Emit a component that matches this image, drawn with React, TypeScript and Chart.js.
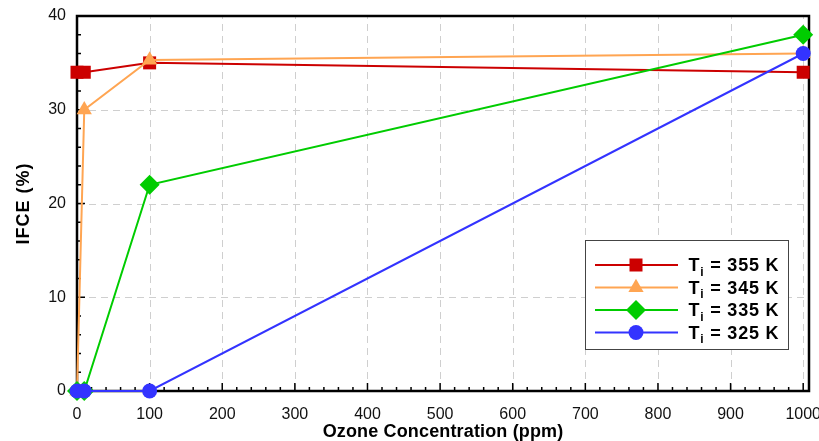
import React, { useEffect, useRef } from 'react';
import { Chart, registerables } from 'chart.js';

Chart.register(...registerables);

// ---- data ----
const xValues = [0, 10, 100, 1000];
const ifce355 = [34, 34, 35, 34];
const ifce345 = [0, 30, 35.3, 36];
const ifce335 = [0, 0, 22, 38];
const ifce325 = [0, 0, 0, 36];
const tempLabels = ['355', '345', '335', '325'];
const xTicks = [0, 100, 200, 300, 400, 500, 600, 700, 800, 900, 1000];
const yTicks = [0, 10, 20, 30, 40];
const xTitle = 'Ozone Concentration (ppm)';
const yTitle = 'IFCE (%)';

const FONT = '"Liberation Sans", Arial, Helvetica, sans-serif';

const series = [
  { temp: tempLabels[0], values: ifce355, color: '#CC0000', style: 'rect', radius: 9.2 },
  { temp: tempLabels[1], values: ifce345, color: '#FFA552', style: 'triangle', radius: 8.8 },
  { temp: tempLabels[2], values: ifce335, color: '#00CC00', style: 'rectRot', radius: 10 },
  { temp: tempLabels[3], values: ifce325, color: '#3333FF', style: 'circle', radius: 7.5 },
];

function drawMarker(ctx: CanvasRenderingContext2D, style: string, x: number, y: number, r: number, color: string) {
  ctx.fillStyle = color;
  ctx.beginPath();
  if (style === 'rect') {
    const h = r * Math.SQRT1_2;
    ctx.rect(x - h, y - h, 2 * h, 2 * h);
  } else if (style === 'triangle') {
    let a = 0;
    ctx.moveTo(x + Math.sin(a) * r, y - Math.cos(a) * r);
    a += (2 * Math.PI) / 3;
    ctx.lineTo(x + Math.sin(a) * r, y - Math.cos(a) * r);
    a += (2 * Math.PI) / 3;
    ctx.lineTo(x + Math.sin(a) * r, y - Math.cos(a) * r);
    ctx.closePath();
  } else if (style === 'rectRot') {
    ctx.moveTo(x - r, y);
    ctx.lineTo(x, y - r);
    ctx.lineTo(x + r, y);
    ctx.lineTo(x, y + r);
    ctx.closePath();
  } else {
    ctx.arc(x, y, r, 0, Math.PI * 2);
  }
  ctx.fill();
}

const framePlugin = {
  id: 'frameAndGrid',
  beforeDatasetsDraw(chart: any) {
    const { ctx, chartArea: a, scales } = chart;
    const x = scales.x;
    const y = scales.y;
    ctx.save();
    // dashed grid
    ctx.strokeStyle = '#cfcfcf';
    ctx.lineWidth = 1;
    ctx.setLineDash([7, 5]);
    for (const v of xTicks) {
      if (v === 0) continue;
      const px = Math.round(x.getPixelForValue(v)) + 0.5;
      ctx.beginPath();
      ctx.moveTo(px, a.bottom);
      ctx.lineTo(px, a.top);
      ctx.stroke();
    }
    for (const v of yTicks) {
      if (v === 0 || v === 40) continue;
      const py = Math.round(y.getPixelForValue(v)) + 0.5;
      ctx.beginPath();
      ctx.moveTo(a.left, py);
      ctx.lineTo(a.right, py);
      ctx.stroke();
    }
    ctx.setLineDash([]);
    // inward tick marks
    ctx.strokeStyle = '#000';
    ctx.lineWidth = 1.5;
    for (let v = 0; v <= 1000; v += 20) {
      const len = v % 100 === 0 ? 8 : 4;
      const px = x.getPixelForValue(v);
      ctx.beginPath();
      ctx.moveTo(px, a.bottom);
      ctx.lineTo(px, a.bottom - len);
      ctx.stroke();
    }
    for (let v = 0; v <= 40; v += 2) {
      const len = v % 10 === 0 ? 8 : 4;
      const py = y.getPixelForValue(v);
      ctx.beginPath();
      ctx.moveTo(a.left, py);
      ctx.lineTo(a.left + len, py);
      ctx.stroke();
    }
    // frame
    ctx.lineWidth = 2.5;
    ctx.strokeRect(a.left, a.top, a.right - a.left, a.bottom - a.top);
    ctx.restore();
  },
  afterDatasetsDraw(chart: any) {
    const { ctx, chartArea: a } = chart;
    ctx.save();
    // axis titles
    ctx.fillStyle = '#000';
    ctx.font = `bold 18px ${FONT}`;
    ctx.textAlign = 'center';
    ctx.textBaseline = 'alphabetic';
    (ctx as any).letterSpacing = '0.15px';
    ctx.fillText(xTitle, (a.left + a.right) / 2, 436.5);
    ctx.save();
    ctx.translate(28.5, (a.top + a.bottom) / 2);
    ctx.rotate(-Math.PI / 2);
    (ctx as any).letterSpacing = '1px';
    ctx.fillText(yTitle, 0, 0);
    ctx.restore();

    // legend
    const bx = 585, by = 240, bw = 203, bh = 109;
    ctx.fillStyle = '#fff';
    ctx.fillRect(bx, by, bw, bh);
    ctx.strokeStyle = '#444';
    ctx.lineWidth = 1;
    ctx.strokeRect(bx + 0.5, by + 0.5, bw, bh);
    const rows = [265, 287.5, 310, 332.5];
    series.forEach((s, i) => {
      const cy = rows[i];
      ctx.strokeStyle = s.color;
      ctx.lineWidth = 2;
      ctx.beginPath();
      ctx.moveTo(595, cy);
      ctx.lineTo(678, cy);
      ctx.stroke();
      drawMarker(ctx, s.style, 636, cy, s.radius, s.color);
      ctx.fillStyle = '#000';
      ctx.textBaseline = 'alphabetic';
      ctx.textAlign = 'left';
      (ctx as any).letterSpacing = '0.8px';
      ctx.font = `bold 18px ${FONT}`;
      let tx = 688.5;
      ctx.fillText('T', tx, cy + 6);
      tx += ctx.measureText('T').width;
      ctx.font = `bold 12px ${FONT}`;
      ctx.fillText('i', tx, cy + 10.5);
      tx += ctx.measureText('i').width;
      ctx.font = `bold 18px ${FONT}`;
      ctx.fillText(` = ${s.temp} K`, tx, cy + 6);
    });
    ctx.restore();
  },
};

export default function App() {
  const ref = useRef<HTMLCanvasElement | null>(null);
  useEffect(() => {
    document.body.style.margin = '0';
    const canvas = ref.current;
    if (!canvas) return;
    const datasets = [...series].reverse().map((s) => ({
      label: s.temp,
      data: xValues.map((xv, i) => ({ x: xv, y: s.values[i] })),
      borderColor: s.color,
      backgroundColor: s.color,
      borderWidth: 2,
      pointStyle: s.style,
      pointRadius: s.radius,
      pointHoverRadius: s.radius,
      pointBorderWidth: 0,
      pointBackgroundColor: s.color,
      tension: 0,
      clip: false as any,
    }));
    const chart = new Chart(canvas, {
      type: 'line',
      data: { datasets },
      options: {
        animation: false,
        responsive: false,
        events: [],
        layout: { padding: { left: 0, top: 16, right: 10, bottom: 0 } },
        plugins: { legend: { display: false }, tooltip: { enabled: false } },
        scales: {
          x: {
            type: 'linear',
            min: 0,
            max: 1008,
            afterBuildTicks: (scale: any) => {
              scale.ticks = xTicks.map((v) => ({ value: v }));
            },
            afterFit: (scale: any) => {
              scale.height = 50;
              scale.paddingLeft = 0;
              scale.paddingRight = 0;
            },
            grid: { display: false, drawTicks: false },
            border: { display: false },
            ticks: {
              color: '#111',
              font: { family: FONT, size: 16 },
              padding: 14,
              maxRotation: 0,
              autoSkip: false,
              callback: (v: any) => String(v),
            },
            title: { display: false },
          },
          y: {
            type: 'linear',
            min: 0,
            max: 40,
            afterBuildTicks: (scale: any) => {
              scale.ticks = yTicks.map((v) => ({ value: v }));
            },
            afterFit: (scale: any) => {
              scale.width = 77;
              scale.paddingTop = 0;
              scale.paddingBottom = 0;
            },
            grid: { display: false, drawTicks: false },
            border: { display: false },
            ticks: {
              color: '#111',
              font: { family: FONT, size: 16 },
              padding: 11,
              callback: (v: any) => String(v),
            },
            title: { display: false },
          },
        },
      },
      plugins: [framePlugin],
    } as any);
    return () => chart.destroy();
  }, []);
  return <canvas ref={ref} width={819} height={441} style={{ display: 'block' }} />;
}
